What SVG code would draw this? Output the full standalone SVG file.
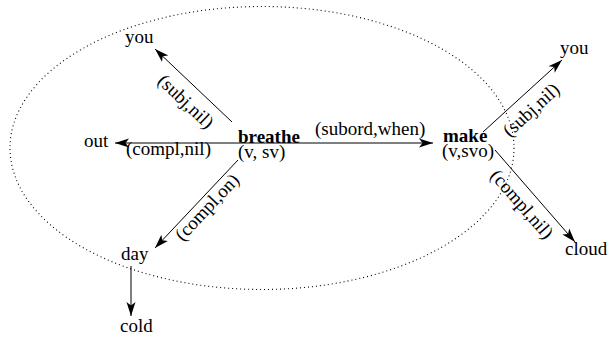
<svg xmlns="http://www.w3.org/2000/svg" width="609" height="339" viewBox="0 0 609 339">
<style>
text{font-family:"Liberation Serif","Times New Roman",serif;font-size:19px;fill:#000}
.b{font-weight:bold}
.m{text-anchor:middle}
.e{stroke:#000;stroke-width:1;fill:none;marker-end:url(#ah)}
.ell{stroke:#000;stroke-width:1.1;fill:none;stroke-dasharray:1 3}
</style>
<defs>
<marker id="ah" markerUnits="userSpaceOnUse" markerWidth="14" markerHeight="10" viewBox="0 0 14 10" refX="14" refY="5" orient="auto">
<path d="M0,0.5 L14,5 L0,9.5 L3.5,5 z" fill="#000"/>
</marker>
</defs>
<rect width="609" height="339" fill="#fff"/>
<ellipse class="ell" cx="262" cy="148" rx="252" ry="141.5"/>
<g id="connectors">
<path class="e" d="M232,122 L155,49"/>
<path class="e" d="M232,143 L115,143"/>
<path class="e" d="M232,143 L433,143"/>
<path class="e" d="M238,160 L155,248"/>
<path class="e" d="M131,266 L131,316"/>
<path class="e" d="M483,132 L562,60"/>
<path class="e" d="M495,150 L575,242"/>
<text x="315" y="135">(subord,when)</text>
<text x="126" y="155">(compl,nil)</text>
<text class="m" transform="translate(181.6,106) rotate(43.5)">(subj,nil)</text>
<text class="m" transform="translate(211.6,211.4) rotate(-46.7)">(compl,on)</text>
<text class="m" transform="translate(535.4,114.5) rotate(-42.3)">(subj,nil)</text>
<text class="m" transform="translate(517.2,208.3) rotate(49)">(compl,nil)</text>
</g>
<g id="breathe"><text class="b" x="238" y="143">breathe</text><text x="238" y="158">(v, sv)</text></g>
<g id="out"><text x="84" y="147">out</text></g>
<g id="you1"><text x="125" y="43">you</text></g>
<g id="day"><text x="121" y="260">day</text></g>
<g id="cold"><text x="120" y="332">cold</text></g>
<g id="make"><text class="b" x="443" y="142">make</text><text x="442" y="157">(v,svo)</text></g>
<g id="you2"><text x="560" y="54">you</text></g>
<g id="cloud"><text x="565" y="255">cloud</text></g>
</svg>
